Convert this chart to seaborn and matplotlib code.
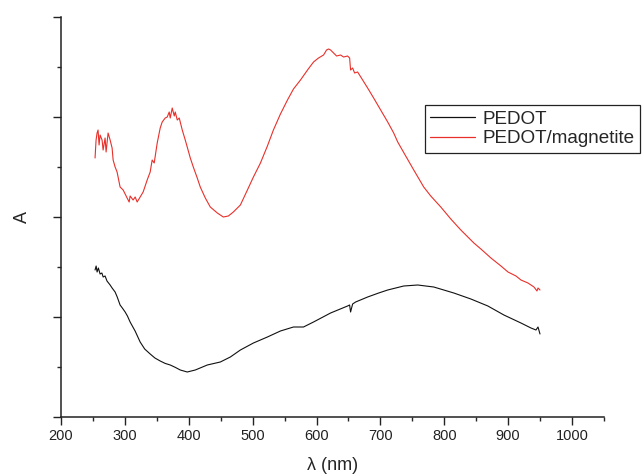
import matplotlib
matplotlib.use("Agg")
import matplotlib.pyplot as plt
import seaborn as sns
import pandas as pd
from matplotlib.ticker import MultipleLocator, NullFormatter

# PEDOT spectrum (wavelength nm, absorbance a.u.)
pedot_wl = [253.3, 255.0, 256.5, 258.5, 261.2, 264.0, 266.0, 269.0, 272.0, 276.9, 280.0, 284.7, 288.0,
            292.5, 296.0, 300.4, 304.0, 308.2, 316.0, 323.9, 331.0, 339.6, 347.0, 355.3, 363.0,
            371.0, 379.0, 386.7, 397.6, 410.2, 429.0, 449.4, 465.1, 480.8, 501.2, 523.1, 543.5,
            563.9, 579.6, 595.3, 622.0, 648.6, 651.8, 653.3, 656.5, 661.2, 680.0, 697.3, 711.4,
            736.5, 758.4, 783.5, 814.9, 841.6, 868.2, 893.3, 920.0, 935.7, 943.5, 946.7, 949.8]
pedot_abs = [0.735, 0.755, 0.725, 0.745, 0.715, 0.72, 0.70, 0.705, 0.68, 0.66, 0.645, 0.625, 0.60,
             0.56, 0.545, 0.525, 0.505, 0.475, 0.43, 0.375, 0.34, 0.315, 0.295, 0.28, 0.268,
             0.26, 0.248, 0.235, 0.225, 0.235, 0.26, 0.275, 0.30, 0.335, 0.37, 0.40, 0.43,
             0.45, 0.45, 0.475, 0.52, 0.555, 0.56, 0.525, 0.565, 0.575, 0.60, 0.62, 0.635,
             0.655, 0.66, 0.65, 0.62, 0.59, 0.555, 0.51, 0.47, 0.445, 0.435, 0.45, 0.415]

# PEDOT/magnetite spectrum
mag_wl = [253.3, 254.9, 256.5, 258.0, 259.6, 261.2, 264.3, 265.9, 269.0, 270.6, 273.7, 276.9, 280.0,
          281.6, 284.7, 287.8, 292.5, 297.3, 303.5, 306.7, 308.2, 312.9, 316.1, 319.2, 323.9,
          328.6, 334.9, 339.6, 342.7, 345.9, 350.6, 355.3, 358.4, 363.1, 366.3, 369.4, 371.0,
          374.1, 377.3, 378.8, 382.0, 385.1, 389.8, 394.5, 397.6, 402.4, 407.1, 413.3, 418.0,
          425.9, 433.7, 444.7, 454.1, 462.0, 469.8, 480.8, 491.8, 501.2, 512.2, 523.1, 532.5,
          543.5, 554.5, 563.9, 574.9, 585.9, 595.3, 603.1, 611.0, 615.7, 618.8, 622.0, 626.7,
          631.4, 637.6, 642.4, 648.6, 651.8, 653.3, 656.5, 659.6, 664.3, 672.2, 680.0, 689.4,
          700.4, 711.4, 720.8, 727.1, 739.6, 752.2, 767.8, 778.8, 794.5, 810.2, 825.9, 846.3,
          857.3, 873.0, 888.7, 899.7, 912.2, 920.0, 931.0, 940.4, 945.1, 946.7, 949.8]
mag_abs = [1.295, 1.385, 1.42, 1.435, 1.36, 1.41, 1.385, 1.335, 1.395, 1.325, 1.42, 1.385, 1.345,
           1.285, 1.25, 1.225, 1.15, 1.135, 1.095, 1.075, 1.105, 1.085, 1.10, 1.075, 1.10,
           1.125, 1.185, 1.225, 1.285, 1.27, 1.37, 1.445, 1.475, 1.495, 1.50, 1.525, 1.495,
           1.545, 1.505, 1.525, 1.485, 1.495, 1.435, 1.385, 1.35, 1.295, 1.25, 1.195, 1.15,
           1.095, 1.05, 1.02, 1.00, 1.005, 1.025, 1.06, 1.135, 1.20, 1.27, 1.355, 1.435,
           1.515, 1.585, 1.64, 1.685, 1.735, 1.775, 1.795, 1.81, 1.835, 1.84, 1.835, 1.82,
           1.805, 1.81, 1.80, 1.805, 1.795, 1.735, 1.745, 1.72, 1.725, 1.685, 1.645, 1.595,
           1.535, 1.475, 1.42, 1.375, 1.305, 1.235, 1.15, 1.105, 1.05, 0.99, 0.935, 0.87,
           0.84, 0.795, 0.755, 0.725, 0.705, 0.685, 0.67, 0.65, 0.63, 0.645, 0.635]

x_ticks = [200, 300, 400, 500, 600, 700, 800, 900, 1000]
series_names = ["PEDOT", "PEDOT/magnetite"]

sns.set_style("ticks")
plt.rcParams['font.family'] = ['Liberation Sans', 'DejaVu Sans']

df = pd.concat([
    pd.DataFrame({"wl": pedot_wl, "A": pedot_abs, "sample": series_names[0], "order": range(len(pedot_wl))}),
    pd.DataFrame({"wl": mag_wl, "A": mag_abs, "sample": series_names[1], "order": range(len(mag_wl))}),
])

fig = plt.figure(figsize=(6.43, 4.75), dpi=100)
ax = fig.add_axes([61/643, 1-417/475, 543/643, 400/475])

sns.lineplot(data=df, x="wl", y="A", hue="sample", hue_order=series_names,
             palette={"PEDOT": "#111111", "PEDOT/magnetite": "#e8302a"},
             sort=False, estimator=None, linewidth=0.8, ax=ax)

ax.set_xlim(200, 1050)
ax.set_ylim(0, 2)
ax.set_xticks(x_ticks)
ax.set_xticklabels([str(t) for t in x_ticks])
ax.xaxis.set_minor_locator(MultipleLocator(50))
ax.yaxis.set_major_locator(MultipleLocator(0.5))
ax.yaxis.set_minor_locator(MultipleLocator(0.25))
ax.yaxis.set_major_formatter(NullFormatter())
ax.tick_params(axis='both', which='major', direction='out', length=6, width=1.0,
               labelsize=10.5, colors='#222222', pad=3)
ax.tick_params(axis='both', which='minor', direction='out', length=3, width=1.0)
ax.tick_params(axis='y', which='both', left=True)
for s in ['top', 'right']:
    ax.spines[s].set_visible(False)
for s in ['left', 'bottom']:
    ax.spines[s].set_linewidth(1.1)
    ax.spines[s].set_color('#222222')

ax.set_xlabel("λ (nm)", fontsize=13)
ax.set_ylabel("A", fontsize=13)
ax.xaxis.set_label_coords(0.5, (417-466)/400)
ax.xaxis.label.set_va('center')
ax.yaxis.set_label_coords((22-61)/543, 0.5)
ax.yaxis.label.set_va('center')

leg = ax.legend(loc='upper left', bbox_to_anchor=(425/643, 1-105/475),
                bbox_transform=fig.transFigure, fontsize=13.6, frameon=True,
                fancybox=False, edgecolor='#222222', framealpha=1,
                handlelength=2.35, handletextpad=0.4, borderpad=0.28,
                labelspacing=0.14, borderaxespad=0)
leg.get_frame().set_linewidth(0.9)
for line in leg.get_lines():
    line.set_linewidth(0.9)

fig.savefig("out.png", dpi=100)
